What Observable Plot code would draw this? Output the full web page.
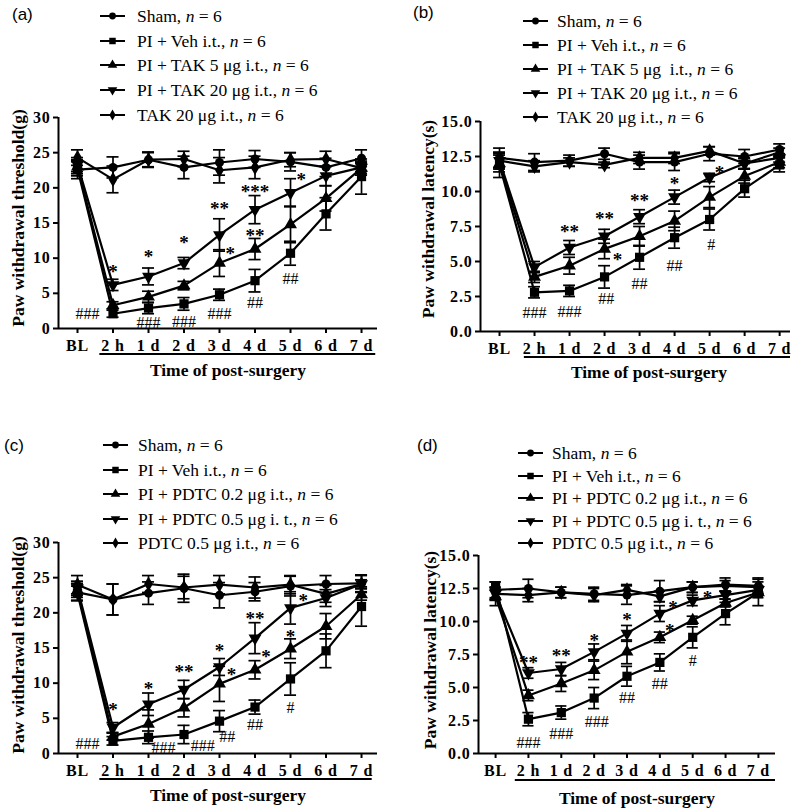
<!DOCTYPE html>
<html><head><meta charset="utf-8">
<script src="https://cdn.jsdelivr.net/npm/d3@7"></script>
<script src="https://cdn.jsdelivr.net/npm/@observablehq/plot@0.6"></script>
<style>
body{margin:0;background:#fff;}
#page{position:relative;width:800px;height:809px;overflow:hidden;font-family:"Liberation Serif","Times New Roman",serif;color:#000;}
.panel{position:absolute;}
.panel g[aria-label$="tick label"] text{letter-spacing:0.8px;}
.plab{position:absolute;font-family:"Liberation Sans",Arial,sans-serif;font-size:17px;line-height:17px;transform:translateY(-50%);}
.legrow{position:absolute;font-size:17.5px;line-height:18px;white-space:pre;transform:translateY(-50%);}
.legsym{position:absolute;overflow:visible;}
</style>
</head><body><div id="page"></div>
<script>
// ---------- data ----------
const times = ["BL", "2 h", "1 d", "2 d", "3 d", "4 d", "5 d", "6 d", "7 d"];

const legendA = ["Sham", "PI + Veh i.t.", "PI + TAK 5 μg i.t.", "PI + TAK 20 μg i.t.", "TAK 20 μg i.t."];
const legendB = ["Sham", "PI + Veh i.t.", "PI + TAK 5 μg  i.t.", "PI + TAK 20 μg i.t.", "TAK 20 μg i.t."];
const legendC = ["Sham", "PI + Veh i.t.", "PI + PDTC 0.2 μg i.t.", "PI + PDTC 0.5 μg i. t.", "PDTC 0.5 μg i.t."];
const legendD = ["Sham", "PI + Veh i.t.", "PI + PDTC 0.2 μg i.t.", "PI + PDTC 0.5 μg i. t.", "PDTC 0.5 μg i.t."];
const groupN = [6, 6, 6, 6, 6];

// (a) paw withdrawal threshold (g), TAK
const meanA = [
  [22.6, 22.9, 24.0, 22.9, 23.6, 24.1, 23.7, 22.9, 24.2],
  [22.7, 2.1, 2.9, 3.5, 4.8, 6.8, 10.7, 16.3, 21.6],
  [23.0, 3.3, 4.5, 6.1, 9.3, 11.3, 14.8, 18.5, 22.8],
  [23.3, 6.2, 7.4, 9.3, 13.3, 16.9, 19.3, 21.7, 22.9],
  [24.3, 21.2, 24.0, 24.1, 22.5, 22.9, 24.0, 24.1, 22.8]
];
const errA = [
  [1.3, 1.5, 1.0, 1.6, 1.8, 1.2, 1.3, 1.3, 1.2],
  [1.0, 0.5, 0.8, 0.9, 0.8, 1.6, 1.7, 2.3, 2.5],
  [1.0, 0.5, 0.8, 0.6, 1.9, 1.5, 2.6, 1.8, 0.8],
  [1.0, 0.8, 1.2, 0.8, 2.3, 2.0, 2.0, 1.4, 0.6],
  [1.1, 1.9, 1.1, 1.1, 1.8, 1.6, 1.0, 1.1, 1.0]
];
const notesA = [
  ["2 h", 8.6, "*", 0], ["1 d", 10.7, "*", 0], ["2 d", 12.7, "*", 0], ["3 d", 17.6, "**", 0],
  ["4 d", 20.0, "***", 0], ["5 d", 21.7, "*", 0.3], ["3 d", 11.2, "*", 0.3], ["4 d", 13.8, "**", 0],
  ["BL", 2.1, "###", 0.28], ["1 d", 0.8, "###", 0], ["2 d", 1.0, "###", 0], ["3 d", 2.1, "###", 0],
  ["4 d", 3.6, "##", 0], ["5 d", 7.1, "##", 0]
];

// (b) paw withdrawal latency (s), TAK
const meanB = [
  [12.4, 12.1, 12.2, 12.7, 12.1, 12.1, 12.7, 12.5, 13.0],
  [11.9, 2.8, 2.9, 3.9, 5.3, 6.7, 8.0, 10.2, 11.9],
  [12.0, 3.9, 4.7, 5.9, 6.8, 7.9, 9.6, 11.1, 12.1],
  [12.2, 4.6, 6.0, 6.8, 8.2, 9.6, 11.0, 12.0, 12.4],
  [12.2, 11.8, 12.1, 11.9, 12.4, 12.4, 12.9, 12.0, 12.8]
];
const errB = [
  [0.7, 0.6, 0.4, 0.4, 0.5, 0.6, 0.5, 0.5, 0.4],
  [0.9, 0.4, 0.4, 0.8, 0.85, 0.75, 0.75, 0.6, 0.5],
  [0.6, 0.4, 0.6, 0.7, 0.7, 0.7, 0.75, 0.5, 0.4],
  [0.5, 0.4, 0.5, 0.5, 0.5, 0.5, 0.3, 0.35, 0.3],
  [0.6, 0.4, 0.3, 0.2, 0.4, 0.4, 0.3, 0.4, 0.3]
];
const notesB = [
  ["1 d", 7.4, "**", 0], ["2 d", 8.3, "**", 0], ["3 d", 9.6, "**", 0], ["4 d", 10.8, "*", 0],
  ["5 d", 11.6, "*", 0.28], ["2 d", 5.4, "*", 0.37],
  ["2 h", 1.3, "###", 0], ["1 d", 1.4, "###", 0], ["2 d", 2.3, "##", 0.05], ["3 d", 3.4, "##", 0],
  ["4 d", 4.7, "##", 0], ["5 d", 6.2, "#", 0.05]
];

// (c) paw withdrawal threshold (g), PDTC
const meanC = [
  [22.9, 21.9, 22.8, 23.5, 22.5, 23.0, 23.8, 24.1, 24.2],
  [22.8, 1.8, 2.3, 2.7, 4.6, 6.6, 10.6, 14.6, 20.9],
  [23.2, 2.4, 4.2, 6.5, 9.9, 11.9, 14.9, 18.1, 22.6],
  [23.5, 3.7, 7.0, 9.1, 12.3, 16.4, 20.7, 22.1, 24.1],
  [24.0, 21.9, 24.1, 23.6, 24.0, 23.6, 24.0, 22.7, 24.1]
];
const errC = [
  [1.2, 2.2, 1.6, 2.0, 1.8, 1.3, 1.4, 1.2, 1.2],
  [1.0, 0.6, 0.9, 1.3, 1.5, 1.0, 2.3, 2.4, 2.8],
  [1.0, 0.5, 2.0, 1.3, 2.5, 1.3, 1.4, 1.8, 0.8],
  [1.0, 0.7, 1.6, 1.3, 1.2, 2.2, 2.3, 1.2, 0.6],
  [1.3, 2.2, 1.2, 1.6, 1.3, 1.5, 1.3, 1.2, 1.2]
];
const notesC = [
  ["2 h", 6.7, "*", 0], ["1 d", 9.8, "*", 0], ["2 d", 12.1, "**", 0], ["3 d", 15.1, "*", 0],
  ["4 d", 19.7, "**", 0], ["5 d", 22.3, "*", 0.36], ["3 d", 11.8, "*", 0.34], ["4 d", 14.3, "*", 0.31],
  ["5 d", 17.1, "*", 0],
  ["BL", 1.3, "###", 0.28], ["1 d", 0.75, "###", 0.42], ["2 d", 1.1, "###", 0.53], ["3 d", 2.3, "##", 0.22],
  ["4 d", 4.0, "##", 0], ["5 d", 6.5, "#", 0]
];

// (d) paw withdrawal latency (s), PDTC
const meanD = [
  [12.4, 12.5, 12.2, 12.1, 12.0, 12.3, 12.6, 12.8, 12.7],
  [12.7, 2.6, 3.1, 4.2, 5.85, 6.9, 8.8, 10.6, 12.2],
  [11.9, 4.4, 5.3, 6.3, 7.7, 8.8, 10.1, 11.4, 12.2],
  [12.1, 6.1, 6.4, 7.7, 9.1, 10.6, 11.6, 12.0, 12.4],
  [12.1, 12.0, 12.2, 12.0, 12.4, 11.9, 12.6, 12.7, 12.6]
];
const errD = [
  [0.6, 0.7, 0.4, 0.5, 0.7, 0.8, 0.4, 0.5, 0.6],
  [0.3, 0.5, 0.5, 0.8, 0.75, 0.65, 0.8, 0.85, 1.0],
  [0.7, 0.4, 0.6, 0.7, 0.9, 0.4, 0.3, 0.3, 0.4],
  [0.5, 0.4, 0.5, 0.6, 0.6, 0.6, 0.4, 0.3, 0.3],
  [0.4, 0.5, 0.4, 0.5, 0.4, 0.4, 0.4, 0.4, 0.4]
];
const notesD = [
  ["2 h", 7.2, "**", 0], ["1 d", 7.7, "**", 0], ["2 d", 8.8, "*", 0], ["3 d", 10.4, "*", 0],
  ["4 d", 11.3, "*", 0.4], ["5 d", 12.1, "*", 0.45], ["4 d", 9.6, "*", 0.3],
  ["2 h", 0.8, "###", 0], ["1 d", 1.5, "###", 0], ["2 d", 2.4, "###", 0.08], ["3 d", 4.2, "##", 0],
  ["4 d", 5.3, "##", 0], ["5 d", 7.0, "#", 0]
];

// ---------- drawing ----------
const triDown = {
  draw(ctx, size) {
    const s3 = Math.sqrt(3);
    const y = -Math.sqrt(size / (s3 * 3));
    ctx.moveTo(0, -y * 2);
    ctx.lineTo(-s3 * y, y);
    ctx.lineTo(s3 * y, y);
    ctx.closePath();
  }
};
const symbols = ["circle", "square", "triangle", triDown, "diamond"];
const symR = [4.5, 5.2, 4.8, 4.8, 4.6];
const legSym = [d3.symbolCircle, d3.symbolSquare, d3.symbolTriangle, triDown, d3.symbolDiamond];
const legSize = [36, 42, 40, 40, 34];

const page = document.getElementById("page");

const panels = [
  {left: 0, top: 0, w: 400, h: 405, mL: 58, mR: 23, mT: 117, mB: 77, xd: [-0.535, 8.45], yMax: 30, step: 5, fmt: d3.format("d"),
   means: meanA, errs: errA, notes: notesA, legend: legendA, ytitle: "Paw withdrawal threshold(g)",
   yt: [18, 218], xt: [228, 370], br: [0.63, 8.4, 354], letter: "(a)", lp: [12, 14],
   leg: {sx: 100, tx: 137, y0: 16, dy: 24.7}},
  {left: 400, top: 0, w: 400, h: 405, mL: 80, mR: 10, mT: 121, mB: 74, xd: [-0.543, 8.31], yMax: 15, step: 2.5, fmt: d3.format(".1f"),
   means: meanB, errs: errB, notes: notesB, legend: legendB, ytitle: "Paw withdrawal latency(s)",
   yt: [28, 219], xt: [249, 372], br: [0.71, 8.31, 357], letter: "(b)", lp: [413, 12],
   leg: {sx: 523, tx: 557, y0: 21, dy: 24}},
  {left: 0, top: 410, w: 400, h: 399, mL: 58, mR: 23, mT: 132, mB: 56, xd: [-0.535, 8.45], yMax: 30, step: 5, fmt: d3.format("d"),
   means: meanC, errs: errC, notes: notesC, legend: legendC, ytitle: "Paw withdrawal threshold(g)",
   yt: [18, 235], xt: [228, 385], br: [0.63, 8.3, 369], letter: "(c)", lp: [4, 445],
   leg: {sx: 103, tx: 138, y0: 445, dy: 24.5}},
  {left: 400, top: 410, w: 400, h: 399, mL: 78, mR: 25, mT: 145, mB: 56, xd: [-0.52, 8.52], yMax: 15, step: 2.5, fmt: d3.format(".1f"),
   means: meanD, errs: errD, notes: notesD, legend: legendD, ytitle: "Paw withdrawal latency(s)",
   yt: [30, 240], xt: [237, 388], br: [0.6, 8.52, 370], letter: "(d)", lp: [417, 445],
   leg: {sx: 518, tx: 552, y0: 453, dy: 22.5}}
];

const cap = 0.17;

for (const cfg of panels) {
  const rows = [];
  cfg.means.forEach((arr, s) => arr.forEach((v, i) => rows.push({s, i, v, e: cfg.errs[s][i]})));
  const notes = cfg.notes.map(([t, y, label, shift]) => ({x: times.indexOf(t) + shift, y, label}));
  const marks = [
    Plot.ruleY([0], {strokeWidth: 2}),
    Plot.ruleX([cfg.xd[0]], {y1: 0, y2: cfg.yMax, strokeWidth: 2}),
    Plot.axisY({ticks: d3.range(0, cfg.yMax + 1e-9, cfg.step), tickFormat: cfg.fmt, tickSize: 5, tickPadding: 3, strokeWidth: 2, label: null}),
    Plot.axisX({ticks: d3.range(times.length), tickFormat: i => times[i], tickSize: 5, tickPadding: 6, strokeWidth: 2, label: null})
  ];
  for (let s = 0; s < cfg.means.length; s++) {
    const d = rows.filter(r => r.s === s);
    marks.push(
      Plot.line(d, {x: "i", y: "v", stroke: "black", strokeWidth: 2.2}),
      Plot.ruleX(d, {x: "i", y1: r => r.v - r.e, y2: r => r.v + r.e, strokeWidth: 1.7}),
      Plot.ruleY(d, {y: r => r.v + r.e, x1: r => r.i - cap, x2: r => r.i + cap, strokeWidth: 1.7}),
      Plot.ruleY(d, {y: r => r.v - r.e, x1: r => r.i - cap, x2: r => r.i + cap, strokeWidth: 1.7}),
      Plot.dot(d, {x: "i", y: "v", symbol: symbols[s], r: symR[s], fill: "black", stroke: "none"})
    );
  }
  marks.push(
    Plot.text(notes.filter(n => n.label.includes("*")), {x: "x", y: "y", text: "label", fontSize: 19, fontWeight: "bold", dy: 4}),
    Plot.text(notes.filter(n => n.label.includes("#")), {x: "x", y: "y", text: "label", fontSize: 16, fontWeight: "normal"})
  );
  const plot = Plot.plot({
    width: cfg.w, height: cfg.h,
    marginLeft: cfg.mL, marginRight: cfg.mR, marginTop: cfg.mT, marginBottom: cfg.mB,
    x: {domain: cfg.xd},
    y: {domain: [0, cfg.yMax]},
    style: {fontFamily: "Liberation Serif", fontSize: "16px", fontWeight: "bold", background: "transparent", overflow: "visible", color: "black"},
    marks
  });
  plot.classList.add("panel");
  plot.style.left = cfg.left + "px";
  plot.style.top = cfg.top + "px";
  page.appendChild(plot);

  const svg = d3.select(plot);
  const xs = plot.scale("x");
  svg.append("text").attr("transform", `translate(${cfg.yt[0]},${cfg.yt[1]}) rotate(-90)`)
    .attr("text-anchor", "middle").attr("dy", "0.35em").style("font-size", "17.5px").style("font-weight", "bold").text(cfg.ytitle);
  svg.append("text").attr("x", cfg.xt[0]).attr("y", cfg.xt[1]).attr("text-anchor", "middle").attr("dy", "0.35em")
    .style("font-size", "17.5px").style("font-weight", "bold").text("Time of post-surgery");
  svg.append("line").attr("x1", xs.apply(cfg.br[0])).attr("x2", xs.apply(cfg.br[1])).attr("y1", cfg.br[2]).attr("y2", cfg.br[2])
    .attr("stroke", "black").attr("stroke-width", 2);

  // panel letter
  const lab = document.createElement("div");
  lab.className = "plab";
  lab.style.left = cfg.lp[0] + "px"; lab.style.top = cfg.lp[1] + "px";
  lab.textContent = cfg.letter;
  page.appendChild(lab);

  // legend
  cfg.legend.forEach((name, k) => {
    const y = cfg.leg.y0 + k * cfg.leg.dy;
    const sv = d3.create("svg").attr("class", "legsym").attr("width", 26).attr("height", 14)
      .style("left", cfg.leg.sx + "px").style("top", (y - 7) + "px");
    sv.append("line").attr("x1", 0).attr("x2", 25).attr("y1", 7).attr("y2", 7).attr("stroke", "black").attr("stroke-width", 2);
    sv.append("path").attr("transform", "translate(12.5,7)").attr("d", d3.symbol(legSym[k], legSize[k])()).attr("fill", "black");
    page.appendChild(sv.node());
    const row = document.createElement("div");
    row.className = "legrow";
    row.style.left = cfg.leg.tx + "px"; row.style.top = y + "px";
    row.innerHTML = `${name}, <i>n</i> = ${groupN[k]}`;
    page.appendChild(row);
  });
}
</script>
</body></html>
